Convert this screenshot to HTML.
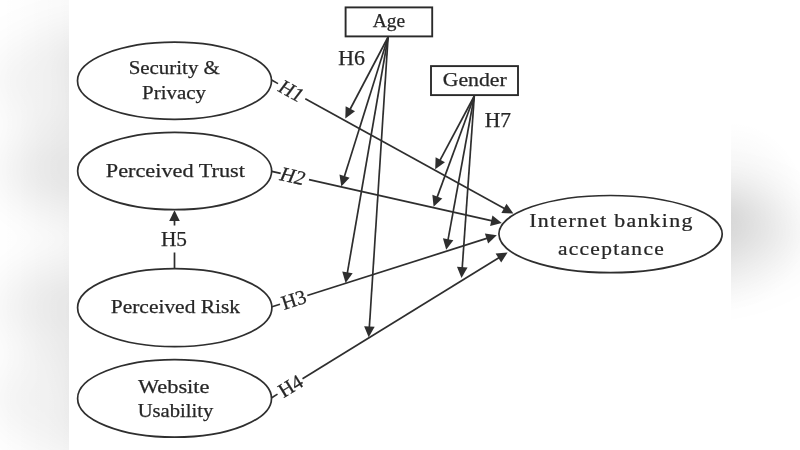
<!DOCTYPE html>
<html><head><meta charset="utf-8"><style>
html,body{margin:0;padding:0;background:#fff;width:800px;height:450px;overflow:hidden}
svg{display:block}
</style></head><body>
<svg width="800" height="450" viewBox="0 0 800 450">
<defs>
<filter id="bl" x="-20%" y="-20%" width="140%" height="140%"><feGaussianBlur stdDeviation="24"/></filter>
<filter id="soft" x="-5%" y="-5%" width="110%" height="110%"><feGaussianBlur stdDeviation="0.45"/></filter>
</defs>
<rect width="800" height="450" fill="#ffffff"/>
<g filter="url(#bl)"><g transform="translate(-83.40,0) scale(1.2085,1)"><g fill="none" stroke="#2e2e2e" stroke-width="1.7">
<ellipse cx="174.5" cy="80.75" rx="97.0" ry="38.55"/>
<ellipse cx="174.65" cy="171.0" rx="97.0" ry="38.7"/>
<ellipse cx="174.75" cy="307.7" rx="97.15" ry="39.0"/>
<ellipse cx="174.55" cy="398.45" rx="96.95" ry="38.75"/>
<ellipse cx="610.55" cy="234.1" rx="111.65" ry="38.6"/>
<rect x="345.6" y="7.4" width="86.6" height="29.0" stroke-width="1.9" stroke="#2c2c2c"/>
<rect x="431.0" y="66.1" width="87.0" height="29.0" stroke-width="1.9" stroke="#2c2c2c"/>
<line x1="271.6" y1="80.1" x2="278.0" y2="83.63"/>
<line x1="305.30" y1="98.69" x2="504.82" y2="208.77"/>
<line x1="271.7" y1="171.3" x2="280.7" y2="173.33"/>
<line x1="309.00" y1="179.70" x2="492.24" y2="220.95"/>
<line x1="272.0" y1="306.8" x2="280.0" y2="304.25"/>
<line x1="307.30" y1="295.56" x2="487.46" y2="238.17"/>
<line x1="271.7" y1="397.7" x2="277.5" y2="394.13"/>
<line x1="302.50" y1="378.73" x2="499.26" y2="257.54"/>
<line x1="174.5" y1="268.5" x2="174.5" y2="252.5"/>
<line x1="174.50" y1="225.50" x2="174.50" y2="220.00"/>
<line x1="388.10" y1="37.00" x2="349.86" y2="109.73"/>
<line x1="388.10" y1="37.00" x2="344.23" y2="177.05"/>
<line x1="388.10" y1="37.00" x2="347.27" y2="273.34"/>
<line x1="388.10" y1="37.00" x2="369.33" y2="327.52"/>
<line x1="474.30" y1="96.00" x2="439.81" y2="160.65"/>
<line x1="474.30" y1="96.00" x2="436.98" y2="197.60"/>
<line x1="474.30" y1="96.00" x2="447.96" y2="240.16"/>
<line x1="474.30" y1="96.00" x2="462.19" y2="268.22"/>
</g>
<g fill="#2e2e2e" stroke="none"><polygon points="513.40,213.50 501.38,212.92 506.50,203.64"/><polygon points="501.80,223.10 490.10,225.90 492.43,215.56"/><polygon points="496.80,235.20 488.12,243.53 484.90,233.43"/><polygon points="507.60,252.40 501.18,262.58 495.62,253.55"/><polygon points="174.50,210.20 179.80,221.00 169.20,221.00"/><polygon points="345.30,118.40 345.64,106.37 355.02,111.31"/><polygon points="341.30,186.40 339.47,174.51 349.59,177.68"/><polygon points="345.60,283.00 342.22,271.46 352.66,273.26"/><polygon points="368.70,337.30 364.11,326.18 374.69,326.86"/><polygon points="435.20,169.30 435.61,157.28 444.96,162.27"/><polygon points="433.60,206.80 432.35,194.83 442.30,198.49"/><polygon points="446.20,249.80 442.93,238.22 453.35,240.13"/><polygon points="461.50,278.00 456.97,266.85 467.54,267.60"/></g>
<g font-family="Liberation Serif" font-size="19.5" fill="#262626" stroke="#262626" stroke-width="0.25">
<text x="128.67" y="73.60" font-size="19.5" textLength="91.24" lengthAdjust="spacingAndGlyphs">Security &amp;</text>
<text x="142.06" y="99.30" font-size="19.5" textLength="63.94" lengthAdjust="spacingAndGlyphs">Privacy</text>
<text x="105.79" y="177.10" font-size="19.5" textLength="139.12" lengthAdjust="spacingAndGlyphs">Perceived Trust</text>
<text x="110.78" y="312.90" font-size="19.5" textLength="129.33" lengthAdjust="spacingAndGlyphs">Perceived Risk</text>
<text x="137.90" y="392.60" font-size="19.5" textLength="71.63" lengthAdjust="spacingAndGlyphs">Website</text>
<text x="137.68" y="416.50" font-size="19.5" textLength="75.63" lengthAdjust="spacingAndGlyphs">Usability</text>
<text transform="translate(529.29 227.30) scale(1.12 1)" x="0" y="0" font-size="19.5" textLength="145.55" lengthAdjust="spacing">Internet banking</text>
<text transform="translate(557.88 254.50) scale(1.1 1)" x="0" y="0" font-size="19.5" textLength="96.22" lengthAdjust="spacing">acceptance</text>
<text x="372.73" y="26.90" font-size="19.5" textLength="32.35" lengthAdjust="spacingAndGlyphs">Age</text>
<text x="442.72" y="85.60" font-size="19.5" textLength="64.00" lengthAdjust="spacingAndGlyphs">Gender</text>
<text x="338.24" y="64.50" font-size="20.5" textLength="26.70" lengthAdjust="spacingAndGlyphs">H6</text>
<text x="484.83" y="127.00" font-size="20.5" textLength="26.31" lengthAdjust="spacingAndGlyphs">H7</text>
<text x="160.93" y="245.80" font-size="20.5" textLength="26.07" lengthAdjust="spacingAndGlyphs">H5</text>
<text x="0" y="6.7" font-size="20.3" text-anchor="middle" transform="translate(291.30 90.97) rotate(28.89) skewX(-8)">H1</text>
<text x="0" y="6.7" font-size="20.3" text-anchor="middle" transform="translate(293.00 176.10) rotate(12.69) skewX(-10)">H2</text>
<text x="0" y="6.7" font-size="20.3" text-anchor="middle" transform="translate(293.70 299.89) rotate(-17.67) skewX(0)">H3</text>
<text x="0" y="6.7" font-size="20.3" text-anchor="middle" transform="translate(290.50 386.12) rotate(-31.63) skewX(0)">H4</text>
</g></g></g>
<radialGradient id="rb" cx="731" cy="216" r="88" gradientUnits="userSpaceOnUse" gradientTransform="translate(731 216) scale(0.9 1.08) translate(-731 -216)"><stop offset="0" stop-color="#000" stop-opacity="0.065"/><stop offset="0.6" stop-color="#000" stop-opacity="0.025"/><stop offset="1" stop-color="#000" stop-opacity="0"/></radialGradient>
<rect x="731" y="100" width="69" height="250" fill="url(#rb)"/>
<linearGradient id="lg" x1="0" y1="0" x2="69" y2="0" gradientUnits="userSpaceOnUse"><stop offset="0" stop-color="#000" stop-opacity="0.0"/><stop offset="1" stop-color="#000" stop-opacity="0.02"/></linearGradient>
<rect x="0" y="0" width="69" height="450" fill="url(#lg)"/>
<rect x="69" y="0" width="662" height="450" fill="#ffffff"/>
<g filter="url(#soft)"><g fill="none" stroke="#2e2e2e" stroke-width="1.7">
<ellipse cx="174.5" cy="80.75" rx="97.0" ry="38.55"/>
<ellipse cx="174.65" cy="171.0" rx="97.0" ry="38.7"/>
<ellipse cx="174.75" cy="307.7" rx="97.15" ry="39.0"/>
<ellipse cx="174.55" cy="398.45" rx="96.95" ry="38.75"/>
<ellipse cx="610.55" cy="234.1" rx="111.65" ry="38.6"/>
<rect x="345.6" y="7.4" width="86.6" height="29.0" stroke-width="1.9" stroke="#2c2c2c"/>
<rect x="431.0" y="66.1" width="87.0" height="29.0" stroke-width="1.9" stroke="#2c2c2c"/>
<line x1="271.6" y1="80.1" x2="278.0" y2="83.63"/>
<line x1="305.30" y1="98.69" x2="504.82" y2="208.77"/>
<line x1="271.7" y1="171.3" x2="280.7" y2="173.33"/>
<line x1="309.00" y1="179.70" x2="492.24" y2="220.95"/>
<line x1="272.0" y1="306.8" x2="280.0" y2="304.25"/>
<line x1="307.30" y1="295.56" x2="487.46" y2="238.17"/>
<line x1="271.7" y1="397.7" x2="277.5" y2="394.13"/>
<line x1="302.50" y1="378.73" x2="499.26" y2="257.54"/>
<line x1="174.5" y1="268.5" x2="174.5" y2="252.5"/>
<line x1="174.50" y1="225.50" x2="174.50" y2="220.00"/>
<line x1="388.10" y1="37.00" x2="349.86" y2="109.73"/>
<line x1="388.10" y1="37.00" x2="344.23" y2="177.05"/>
<line x1="388.10" y1="37.00" x2="347.27" y2="273.34"/>
<line x1="388.10" y1="37.00" x2="369.33" y2="327.52"/>
<line x1="474.30" y1="96.00" x2="439.81" y2="160.65"/>
<line x1="474.30" y1="96.00" x2="436.98" y2="197.60"/>
<line x1="474.30" y1="96.00" x2="447.96" y2="240.16"/>
<line x1="474.30" y1="96.00" x2="462.19" y2="268.22"/>
</g>
<g fill="#2e2e2e" stroke="none"><polygon points="513.40,213.50 501.38,212.92 506.50,203.64"/><polygon points="501.80,223.10 490.10,225.90 492.43,215.56"/><polygon points="496.80,235.20 488.12,243.53 484.90,233.43"/><polygon points="507.60,252.40 501.18,262.58 495.62,253.55"/><polygon points="174.50,210.20 179.80,221.00 169.20,221.00"/><polygon points="345.30,118.40 345.64,106.37 355.02,111.31"/><polygon points="341.30,186.40 339.47,174.51 349.59,177.68"/><polygon points="345.60,283.00 342.22,271.46 352.66,273.26"/><polygon points="368.70,337.30 364.11,326.18 374.69,326.86"/><polygon points="435.20,169.30 435.61,157.28 444.96,162.27"/><polygon points="433.60,206.80 432.35,194.83 442.30,198.49"/><polygon points="446.20,249.80 442.93,238.22 453.35,240.13"/><polygon points="461.50,278.00 456.97,266.85 467.54,267.60"/></g>
<g font-family="Liberation Serif" font-size="19.5" fill="#262626" stroke="#262626" stroke-width="0.25">
<text x="128.67" y="73.60" font-size="19.5" textLength="91.24" lengthAdjust="spacingAndGlyphs">Security &amp;</text>
<text x="142.06" y="99.30" font-size="19.5" textLength="63.94" lengthAdjust="spacingAndGlyphs">Privacy</text>
<text x="105.79" y="177.10" font-size="19.5" textLength="139.12" lengthAdjust="spacingAndGlyphs">Perceived Trust</text>
<text x="110.78" y="312.90" font-size="19.5" textLength="129.33" lengthAdjust="spacingAndGlyphs">Perceived Risk</text>
<text x="137.90" y="392.60" font-size="19.5" textLength="71.63" lengthAdjust="spacingAndGlyphs">Website</text>
<text x="137.68" y="416.50" font-size="19.5" textLength="75.63" lengthAdjust="spacingAndGlyphs">Usability</text>
<text transform="translate(529.29 227.30) scale(1.12 1)" x="0" y="0" font-size="19.5" textLength="145.55" lengthAdjust="spacing">Internet banking</text>
<text transform="translate(557.88 254.50) scale(1.1 1)" x="0" y="0" font-size="19.5" textLength="96.22" lengthAdjust="spacing">acceptance</text>
<text x="372.73" y="26.90" font-size="19.5" textLength="32.35" lengthAdjust="spacingAndGlyphs">Age</text>
<text x="442.72" y="85.60" font-size="19.5" textLength="64.00" lengthAdjust="spacingAndGlyphs">Gender</text>
<text x="338.24" y="64.50" font-size="20.5" textLength="26.70" lengthAdjust="spacingAndGlyphs">H6</text>
<text x="484.83" y="127.00" font-size="20.5" textLength="26.31" lengthAdjust="spacingAndGlyphs">H7</text>
<text x="160.93" y="245.80" font-size="20.5" textLength="26.07" lengthAdjust="spacingAndGlyphs">H5</text>
<text x="0" y="6.7" font-size="20.3" text-anchor="middle" transform="translate(291.30 90.97) rotate(28.89) skewX(-8)">H1</text>
<text x="0" y="6.7" font-size="20.3" text-anchor="middle" transform="translate(293.00 176.10) rotate(12.69) skewX(-10)">H2</text>
<text x="0" y="6.7" font-size="20.3" text-anchor="middle" transform="translate(293.70 299.89) rotate(-17.67) skewX(0)">H3</text>
<text x="0" y="6.7" font-size="20.3" text-anchor="middle" transform="translate(290.50 386.12) rotate(-31.63) skewX(0)">H4</text>
</g></g>
</svg>
</body></html>
